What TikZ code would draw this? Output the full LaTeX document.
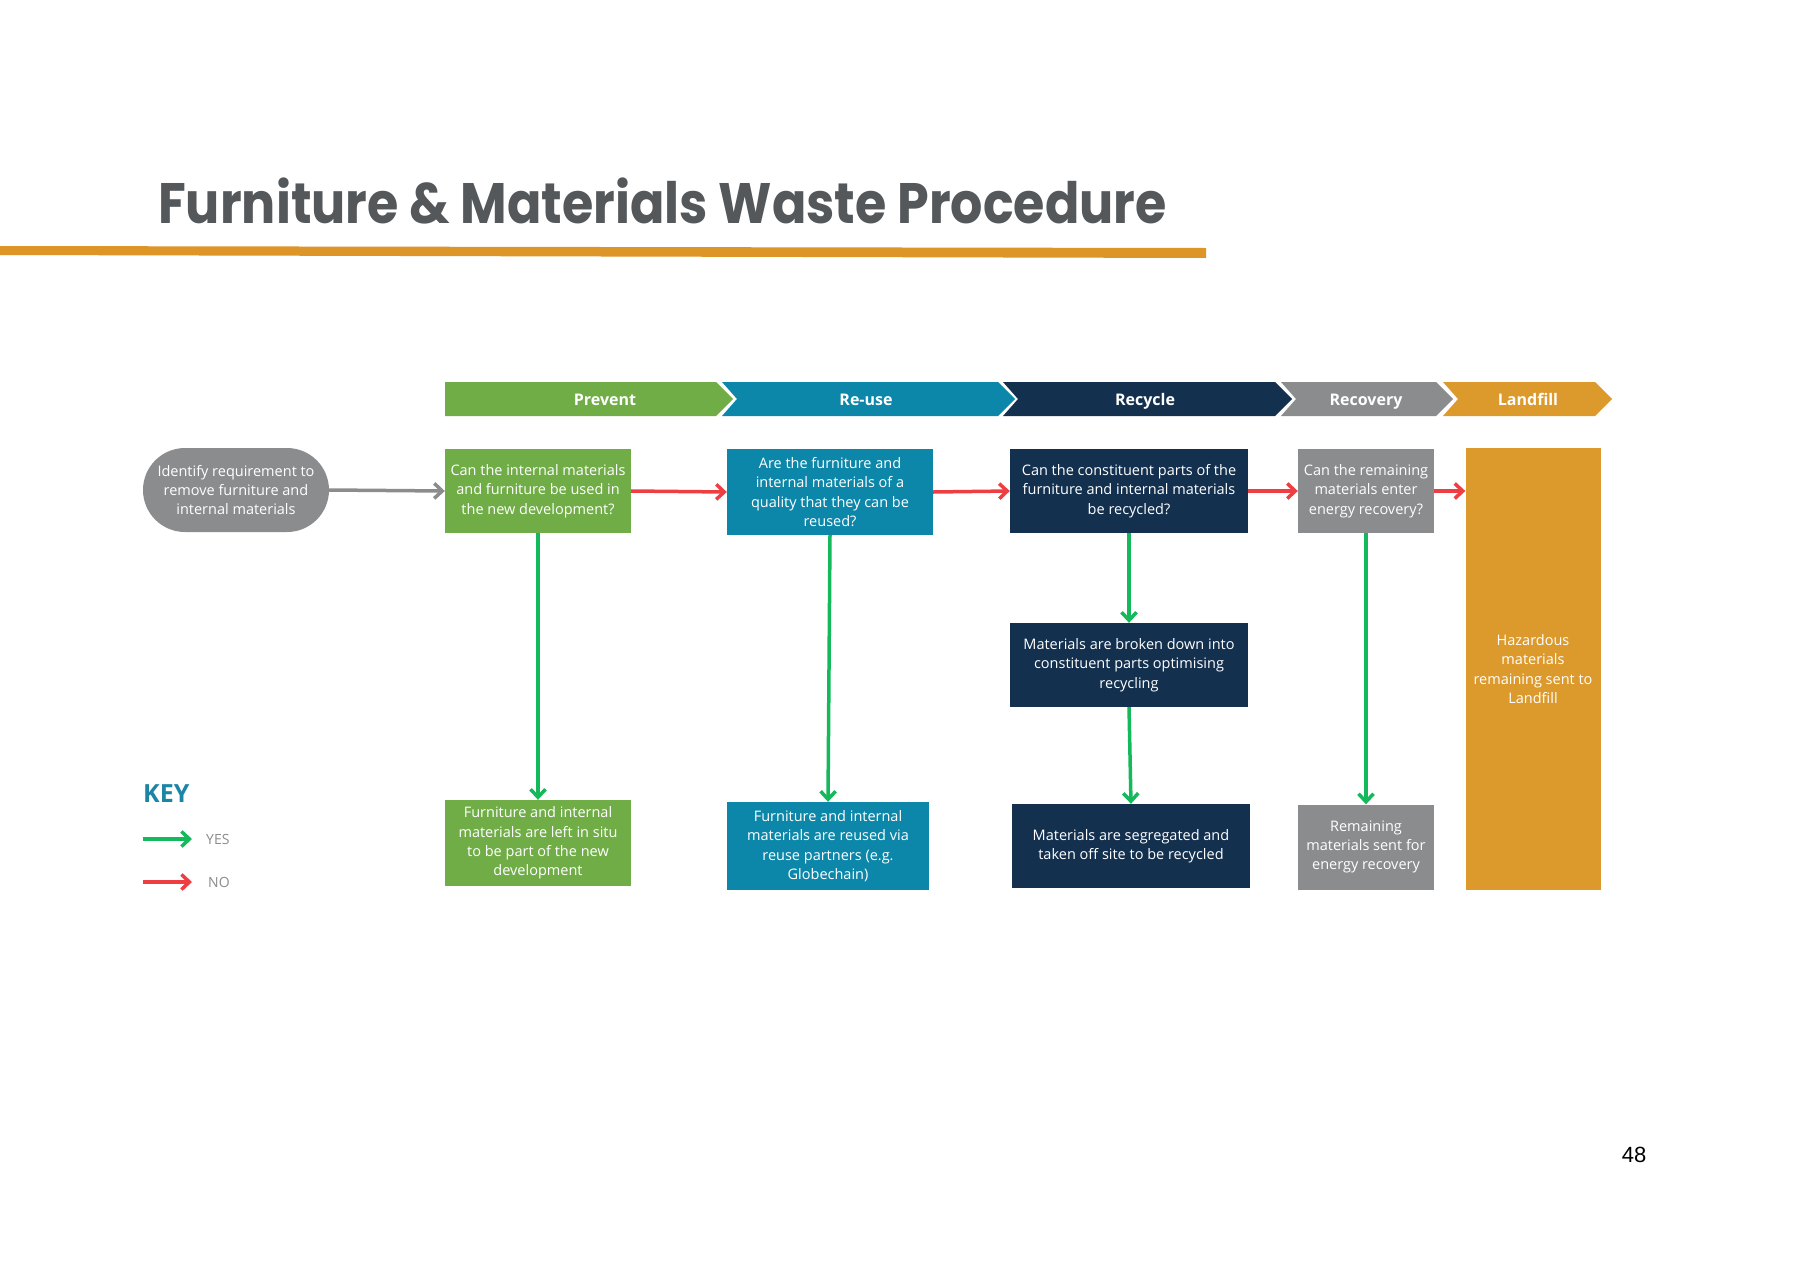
\documentclass[tikz,border=0pt]{standalone}
\usepackage{fontspec}
\setmainfont{Open Sans}
\newfontfamily\titlefont[FakeStretch=0.89]{Poppins}
\newfontfamily\pagefont{Liberation Sans}
\usetikzlibrary{arrows.meta}

\definecolor{prevgreen}{HTML}{70AD47}
\definecolor{reuseblue}{HTML}{0D87A9}
\definecolor{recnavy}{HTML}{13304F}
\definecolor{recovgray}{HTML}{8A8C8E}
\definecolor{landorange}{HTML}{DC992C}
\definecolor{titlegray}{HTML}{54585B}
\definecolor{ruleorange}{HTML}{DE9528}
\definecolor{yesgreen}{HTML}{14B95B}
\definecolor{nored}{HTML}{EF3E42}
\definecolor{keyblue}{HTML}{1B85A6}

\newcommand{\boxfont}{\fontsize{14.5}{19.3}\selectfont}

\begin{document}
\begin{tikzpicture}[x=1pt,y=-1pt,
    >={Straight Barb[length=8pt,width=15pt]},
    wbox/.style={rectangle,fill=#1,text=white,align=center,inner sep=0pt,font=\boxfont},
    stage/.style={anchor=base,text=white,inner sep=0pt,font=\bfseries\fontsize{16}{19}\selectfont},
    yes/.style={draw=yesgreen,line width=3.5pt,->},
    no/.style={draw=nored,line width=3.5pt,->},
    go/.style={draw=recovgray,line width=3.5pt,->},
    keytext/.style={anchor=west,inner sep=0pt,text=recovgray,font=\fontsize{14}{16}\selectfont}]
    \fill[white] (0,0) rectangle (1800,1272);
    \useasboundingbox (0,0) rectangle (1800,1272);

    % title and rule
    \node[anchor=base west,inner sep=0pt,text=titlegray,
        font=\titlefont\bfseries\fontsize{57}{60}\selectfont] (title) at (158,223)
        {Furniture \& Materials Waste Procedure};
    \fill[ruleorange] (0,246) -- (1206,248) -- (1206,258) -- (0,255) -- cycle;

    % stage chevrons
    \foreach \xl/\xr/\nd/\col/\lx/\nm/\lab in {
        445/716/0/prevgreen/605/prevent/Prevent,
        722/998/15/reuseblue/866/reuse/Re-use,
        1003/1275/15/recnavy/1145/recycle/Recycle,
        1281/1436/15/recovgray/1366/recovery/Recovery,
        1443/1595/15/landorange/1528/landfill/Landfill}
    {
        \fill[\col] (\xl,382) -- (\xr,382) -- (\xr+17,399) -- (\xr,416) -- (\xl,416) -- (\xl+\nd,399) -- cycle;
        \node[stage] (stage-\nm) at (\lx,405) {\lab};
    }

    % questions
    \node[wbox=recovgray,rounded corners=42pt,minimum width=186pt,minimum height=84pt] (start) at (236,490)
        {Identify requirement to\\remove furniture and\\internal materials};
    \node[wbox=prevgreen,minimum width=186pt,minimum height=84pt] (prevq) at (538,491)
        {Can the internal materials\\and furniture be used in\\the new development?};
    \node[wbox=reuseblue,minimum width=206pt,minimum height=86pt] (reuseq) at (830,492)
        {Are the furniture and\\internal materials of a\\quality that they can be\\reused?};
    \node[wbox=recnavy,minimum width=238pt,minimum height=84pt] (recq) at (1129,491)
        {Can the constituent parts of the\\furniture and internal materials\\be recycled?};
    \node[wbox=recovgray,minimum width=136pt,minimum height=84pt] (recovq) at (1366,491)
        {Can the remaining\\materials enter\\energy recovery?};
    \node[wbox=landorange,minimum width=135pt,minimum height=442pt] (landq) at (1533,669)
        {Hazardous\\materials\\remaining sent to\\Landfill};

    % outcomes
    \node[wbox=recnavy,minimum width=238pt,minimum height=84pt] (recmid) at (1129,665)
        {Materials are broken down into\\constituent parts optimising\\recycling};
    \node[wbox=prevgreen,minimum width=186pt,minimum height=86pt] (preva) at (538,843)
        {Furniture and internal\\materials are left in situ\\to be part of the new\\development};
    \node[wbox=reuseblue,minimum width=202pt,minimum height=88pt] (reusea) at (828,846)
        {Furniture and internal\\materials are reused via\\reuse partners (e.g.\\Globechain)};
    \node[wbox=recnavy,minimum width=238pt,minimum height=84pt] (reca) at (1131,846)
        {Materials are segregated and\\taken off site to be recycled};
    \node[wbox=recovgray,minimum width=136pt,minimum height=85pt] (recova) at (1366,847)
        {Remaining\\materials sent for\\energy recovery};

    % connectors
    \draw[go] (start.east) -- (prevq.west);
    \draw[no] (prevq.east) -- (reuseq.west);
    \draw[no] (reuseq.east) -- (recq.west);
    \draw[no] (recq.east) -- (recovq.west);
    \draw[no] (recovq.east) -- (recovq.east -| landq.west);
    \draw[yes] (prevq.south) -- (preva.north);
    \draw[yes] (reuseq.south) -- (reusea.north);
    \draw[yes] (recq.south) -- (recmid.north);
    \draw[yes] (recmid.south) -- (reca.north);
    \draw[yes] (recovq.south) -- (recova.north);

    % key
    \node[anchor=base west,inner sep=0pt,text=keyblue,font=\bfseries\fontsize{25}{30}\selectfont] (key) at (143,802) {KEY};
    \coordinate (yes-from) at (143,839);
    \coordinate (yes-to) at (192,839);
    \coordinate (no-from) at (143,882);
    \coordinate (no-to) at (192,882);
    \draw[yes] (yes-from) -- (yes-to);
    \draw[no] (no-from) -- (no-to);
    \node[keytext] (yes) at (206,839) {YES};
    \node[keytext] (no) at (208,882) {NO};

    \node[inner sep=0pt,font=\pagefont\fontsize{22}{26}\selectfont] (page) at (1634,1155) {48};
\end{tikzpicture}
\end{document}
